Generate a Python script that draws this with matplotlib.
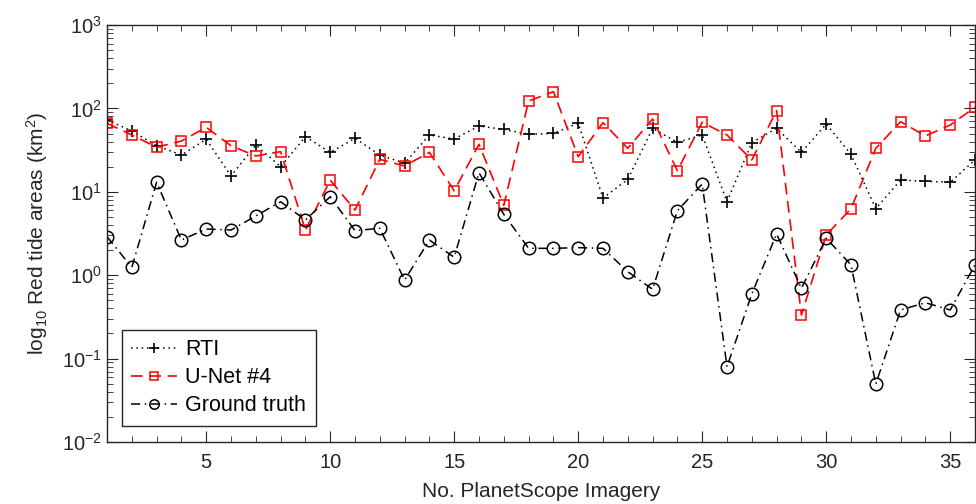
import matplotlib.pyplot as plt
import numpy as np

plt.rcParams['font.family'] = ['Liberation Sans', 'DejaVu Sans']
plt.rcParams['mathtext.fontset'] = 'custom'
plt.rcParams['mathtext.rm'] = 'Liberation Sans'
plt.rcParams['mathtext.it'] = 'Liberation Sans:italic'
plt.rcParams['mathtext.default'] = 'regular'

imagery = np.arange(1, 37)

rti = [72.6, 53.6, 35.7, 27.6, 42.6, 15.5, 36.4, 20.0, 45.8, 29.7, 43.8, 27.6,
       22.0, 48.0, 43.0, 61.5, 56.0, 48.9, 50.2, 66.3, 8.4, 14.1, 57.7, 39.2,
       48.0, 7.6, 38.8, 57.7, 29.7, 65.0, 28.1, 6.3, 13.8, 13.4, 13.0, 24.1]

unet4 = [66.3, 48.0, 34.2, 40.6, 59.3, 35.7, 26.9, 30.3, 3.48, 13.8, 6.05, 24.5,
         20.4, 29.7, 10.3, 37.1, 6.89, 122.6, 158.6, 26.4, 67.4, 33.2, 74.6, 17.9,
         68.1, 48.0, 24.1, 93.9, 0.333, 3.03, 6.27, 33.2, 69.3, 46.7, 63.2, 103.0]

ground_truth = [2.9, 1.24, 13.0, 2.64, 3.58, 3.48, 5.13, 7.6, 4.59, 8.73, 3.42, 3.65,
                0.875, 2.64, 1.64, 16.9, 5.37, 2.10, 2.10, 2.14, 2.10, 1.10, 0.677, 5.94,
                12.4, 0.080, 0.595, 3.12, 0.697, 2.77, 1.33, 0.0496, 0.383, 0.468, 0.383, 1.33]

ax_col = '#262626'

fig = plt.figure(figsize=(9.76, 5.04), dpi=100)
ax = fig.add_axes([107 / 976, 62 / 504, 868 / 976, 417 / 504])

ax.plot(imagery, rti, color='black', linestyle=(0, (1, 2.5)), linewidth=1.1,
        marker='+', markersize=9, markeredgewidth=1.2, label='RTI')
ax.plot(imagery, unet4, color='red', linestyle=(0, (7, 4)), linewidth=1.2,
        marker='s', markersize=7, markerfacecolor='none', markeredgewidth=1.1,
        label='U-Net #4')
ax.plot(imagery, ground_truth, color='black', linestyle=(0, (6, 3, 1, 3)), linewidth=1.1,
        marker='o', markersize=9, markerfacecolor='none', markeredgewidth=1.1,
        label='Ground truth')

ax.set_yscale('log')
ax.set_ylim(1e-2, 1e3)
ax.set_xlim(1, 36)
ax.set_xticks([5, 10, 15, 20, 25, 30, 35])
ax.set_xticks(imagery, minor=True)
ax.set_yticks([1e-2, 1e-1, 1e0, 1e1, 1e2, 1e3])

for s in ax.spines.values():
    s.set_color(ax_col)
    s.set_linewidth(1.0)
ax.tick_params(which='both', direction='in', top=True, right=True,
               colors=ax_col, labelcolor=ax_col, labelsize=14.5)
ax.tick_params(which='major', length=8)
ax.tick_params(which='minor', length=4)
ax.tick_params(axis='x', pad=8)

ax.set_xlabel('No. PlanetScope Imagery', fontsize=15, color=ax_col, labelpad=7)
ax.set_ylabel('log$_{10}$ Red tide areas (km$^2$)', fontsize=15, color=ax_col, labelpad=9)

# legend markers are drawn smaller than the plotted ones
leg = ax.legend(loc='lower left', bbox_to_anchor=(0.017, 0.038), borderaxespad=0,
                fontsize=15.5, frameon=True, fancybox=False, edgecolor=ax_col, framealpha=1,
                handlelength=2.1, borderpad=0.45, labelspacing=0.33, handletextpad=0.4,
                markerscale=0.75)
leg.get_frame().set_linewidth(1.0)
for t in leg.get_texts():
    t.set_color('black')

fig.savefig('out.png', dpi=100)
